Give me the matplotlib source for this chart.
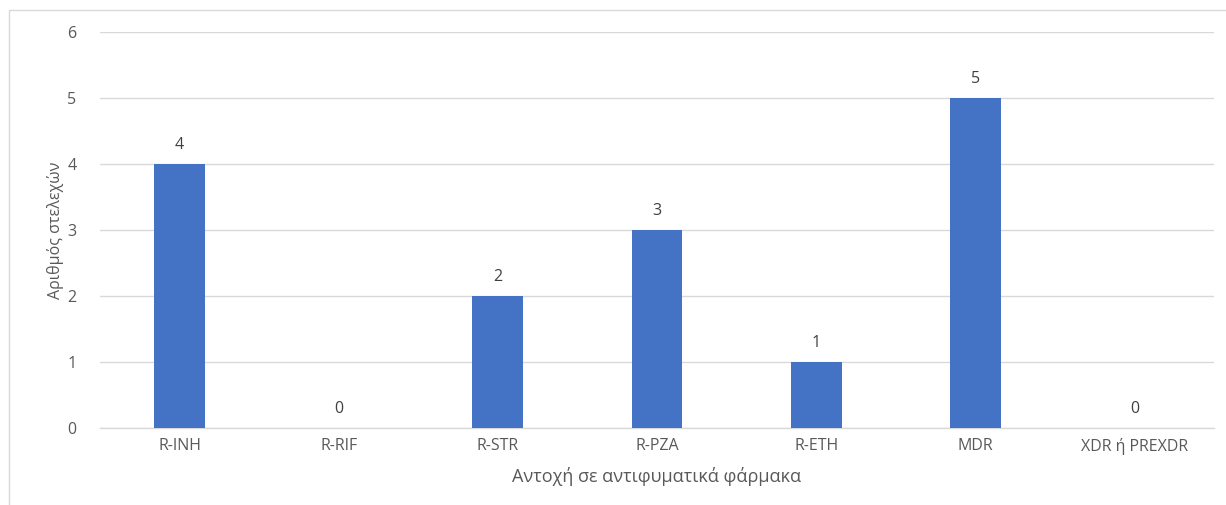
import matplotlib
matplotlib.use("Agg")
import matplotlib.pyplot as plt
from matplotlib.patches import Rectangle

categories = ["R-INH", "R-RIF", "R-STR", "R-PZA", "R-ETH", "MDR", "XDR ή PREXDR"]
counts = [4, 0, 2, 3, 1, 5, 0]
y_ticks = [0, 1, 2, 3, 4, 5, 6]

plt.rcParams['font.family'] = ['Open Sans', 'DejaVu Sans']

W, H = 1226, 505
fig = plt.figure(figsize=(W / 100, H / 100), dpi=100)

# light chart-area frame
fig.patches.append(Rectangle((9 / W, -0.1), 1.2, 1 - 10 / H + 0.1,
                             transform=fig.transFigure, fill=False,
                             edgecolor="#d9d9d9", linewidth=1.0, zorder=0))

ax = fig.add_axes([100 / W, 1 - 428 / H, 1114 / W, (428 - 32) / H])
x = list(range(len(categories)))
bars = ax.bar(x, counts, width=0.32, color="#4472C4", zorder=3)
for xi, v in zip(x, counts):
    ax.text(xi, v + 0.16, str(v), ha="center", va="bottom",
            fontsize=11.5, color="#404040")

ax.set_xlim(-0.5, len(categories) - 0.5)
ax.set_ylim(0, 6)
ax.set_yticks(y_ticks)
ax.set_xticks(x)
ax.set_xticklabels(categories)
ax.tick_params(axis="both", length=0, labelsize=11.5, labelcolor="#595959")
ax.tick_params(axis="y", pad=17)
ax.tick_params(axis="x", pad=7)
ax.grid(axis="y", color="#d9d9d9", linewidth=1.0, zorder=0)
for s in ["top", "right", "left"]:
    ax.spines[s].set_visible(False)
ax.spines["bottom"].set_color("#d9d9d9")
ax.spines["bottom"].set_linewidth(1.0)

ax.set_ylabel("Αριθμός στελεχών", fontsize=11.5, color="#595959", labelpad=2)
ax.set_xlabel("Αντοχή σε αντιφυματικά φάρμακα", fontsize=13, color="#595959",
              labelpad=9)

fig.savefig("out.png", dpi=100)
